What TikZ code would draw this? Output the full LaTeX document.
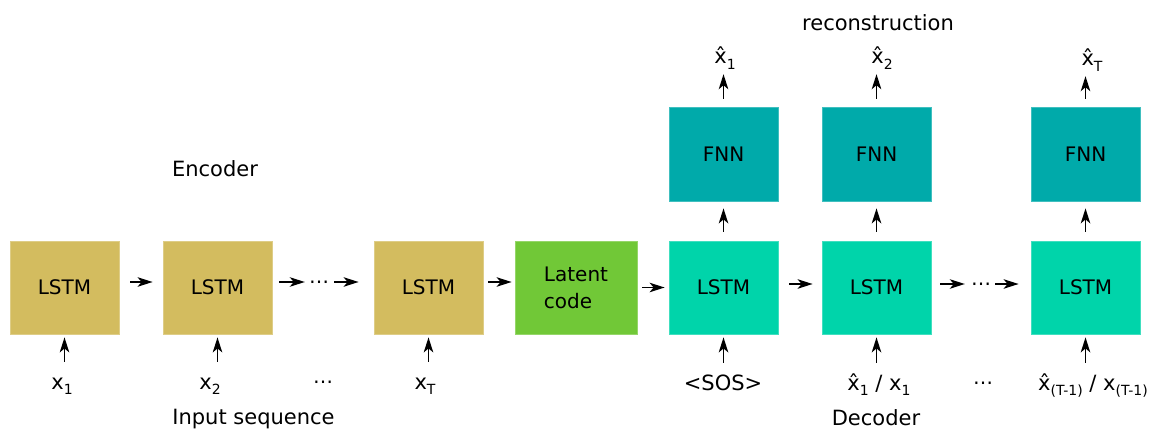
\documentclass[tikz,border=0pt]{standalone}
\usepackage{fontspec}
\setmainfont{DejaVu Sans}
\usetikzlibrary{arrows.meta}

\definecolor{enccol}{HTML}{D3BC5F}
\definecolor{latcol}{HTML}{71C837}
\definecolor{deccol}{HTML}{00D4AA}
\definecolor{fnncol}{HTML}{00AAAA}

% subscript set in a smaller size and lowered
\newcommand{\lowsub}[1]{\raisebox{-0.28em}{\fontsize{14}{14}\selectfont #1}}

\tikzset{
  cell/.style={minimum width=109pt, minimum height=93pt, inner sep=0pt,
               font=\fontsize{20}{24}\selectfont, line width=0.8pt},
  enccell/.style={cell, fill=enccol, draw=enccol!75!white},
  deccell/.style={cell, fill=deccol, draw=deccol!75!white},
  fnncell/.style={cell, fill=fnncol, draw=fnncol!75!white, minimum height=94pt},
  latcell/.style={cell, fill=latcol, draw=latcol!75!white, minimum width=122pt,
                  align=left, font=\fontsize{20}{27}\selectfont},
  lbl/.style={anchor=base, inner sep=0pt, text height=15pt, text depth=5pt,
              font=\fontsize{21}{25}\selectfont},
  title/.style={anchor=base, inner sep=0pt, font=\fontsize{21}{25}\selectfont},
  dotsnode/.style={anchor=base, inner sep=0pt, minimum width=20pt,
                   font=\fontsize{20}{24}\selectfont},
  arr/.style={line width=1.5pt, -{Stealth[length=15pt, width=9.5pt, inset=4pt]}},
}

\begin{document}
\begin{tikzpicture}[x=1pt, y=-1pt]
\path[use as bounding box] (0,0) rectangle (1150,430);

% encoder cells
\node[enccell] (e1) at (64.5,287.5) {LSTM};
\node[enccell] (e2) at (217.5,287.5) {LSTM};
\node[enccell] (e3) at (428.5,287.5) {LSTM};

% latent code
\node[latcell] (lat) at (576,287.5) {Latent\\code};

% decoder cells
\node[deccell] (d1) at (723.5,287.5) {LSTM};
\node[deccell] (d2) at (876.5,287.5) {LSTM};
\node[deccell] (d3) at (1085.5,287.5) {LSTM};

% output networks
\node[fnncell] (f1) at (723.5,154) {FNN};
\node[fnncell] (f2) at (876.5,154) {FNN};
\node[fnncell] (f3) at (1085.5,154) {FNN};

% titles
\node[title] (enc) at (215,177) {Encoder};
\node[title] (inp) at (253.5,424) {Input sequence};
\node[title] (dec) at (876,425) {Decoder};
\node[title] (rec) at (878,31) {reconstruction};

% inputs
\node[lbl] (x1) at (62,389) {x\lowsub{1}};
\node[lbl] (x2) at (210,389) {x\lowsub{2}};
\node[dotsnode] (xdots) at (323,388) {⋯};
\node[lbl] (xT) at (425,389) {x\lowsub{T}};
\node[lbl] (sos) at (723,390) {<SOS>};
\node[lbl] (y1) at (879,390) {\^{x}\lowsub{1} / x\lowsub{1}};
\node[dotsnode] (ydots) at (983,389) {⋯};
\node[lbl] (yT) at (1093,390) {\^{x}\lowsub{(T-1)} / x\lowsub{(T-1)}};

% reconstructed outputs
\node[lbl] (h1) at (725,64) {\^{x}\lowsub{1}};
\node[lbl] (h2) at (882,64) {\^{x}\lowsub{2}};
\node[lbl] (h3) at (1092,66) {\^{x}\lowsub{T}};

% chain dots between cells
\node[dotsnode] (edots) at (319,288) {⋯};
\node[dotsnode] (ddots) at (981,290) {⋯};

% encoder recurrence
\draw[arr, shorten <=11pt, shorten >=10pt] ([yshift=5.5pt]e1.east) -- ([yshift=5.5pt]e2.west);
\draw[arr, shorten <=7pt, shorten >=4pt] ([yshift=5.5pt]e2.east) -- ([yshift=5.5pt]e2.east -| edots.west);
\draw[arr, shorten <=5pt, shorten >=15pt] ([yshift=5.5pt]e3.west -| edots.east) -- ([yshift=5.5pt]e3.west);
\draw[arr, shorten <=5pt, shorten >=3pt] ([yshift=5.5pt]e3.east) -- ([yshift=5.5pt]lat.west);
\draw[arr, shorten <=5pt, shorten >=4pt] (lat.east) -- (d1.west);

% decoder recurrence
\draw[arr, shorten <=11pt, shorten >=9pt] ([yshift=3.5pt]d1.east) -- ([yshift=3.5pt]d2.west);
\draw[arr, shorten <=9pt, shorten >=6pt] ([yshift=3.5pt]d2.east) -- ([yshift=3.5pt]d2.east -| ddots.west);
\draw[arr, shorten <=4pt, shorten >=12pt] ([yshift=3.5pt]d3.west -| ddots.east) -- ([yshift=3.5pt]d3.west);

% inputs into cells
\foreach \l/\c in {x1/e1, x2/e2, xT/e3, sos/d1, y1/d2, yT/d3}
  \draw[arr, shorten <=12pt, shorten >=3pt] (\l.north -| \c.south) -- (\c.south);

% cells into output networks, networks into reconstructions
\foreach \c/\f/\h in {d1/f1/h1, d2/f2/h2, d3/f3/h3}{
  \draw[arr, shorten <=9pt, shorten >=7pt] (\c.north) -- (\f.south);
  \draw[arr, shorten <=8pt, shorten >=5pt] (\f.north) -- (\h.south -| \f.north);
}
\end{tikzpicture}
\end{document}
